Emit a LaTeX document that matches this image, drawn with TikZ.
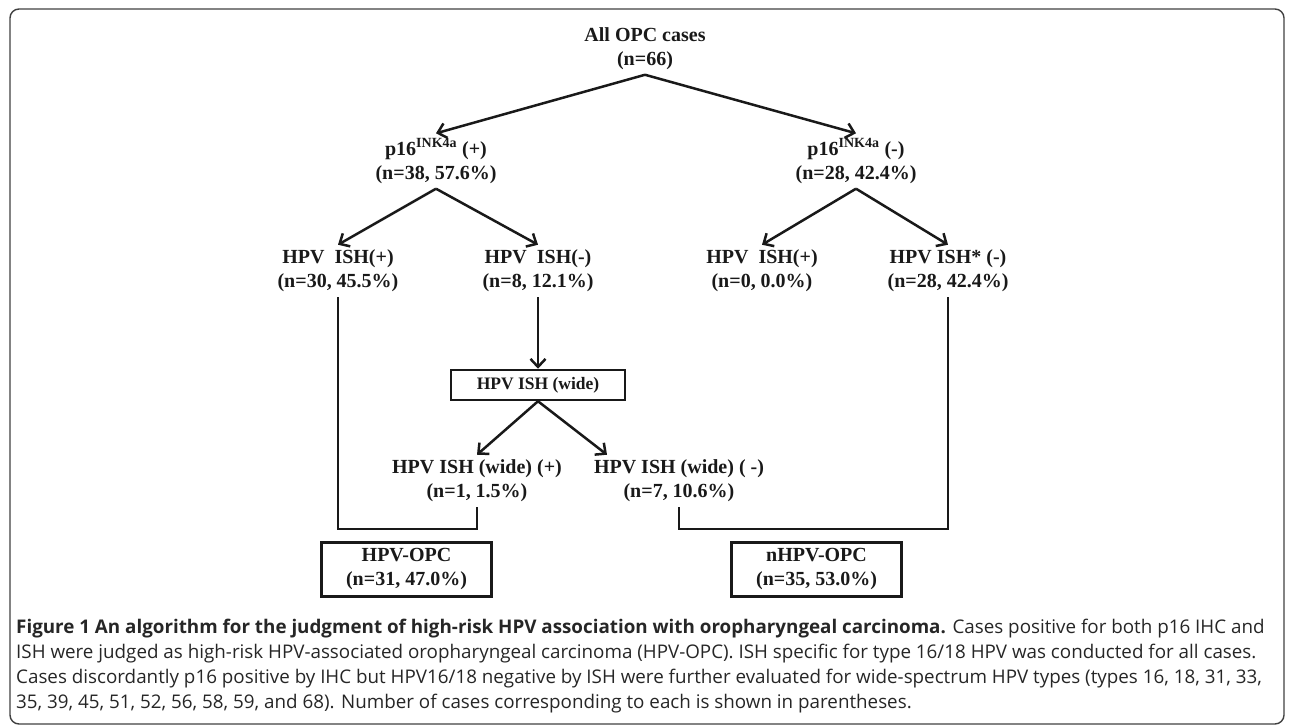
\documentclass[tikz,border=0pt]{standalone}
\usepackage{fontspec}
\setmainfont{Liberation Serif}
\newfontfamily\capfont{Open Sans}
\usetikzlibrary{positioning,arrows.meta}

\tikzset{
  lbl/.style={font=\bfseries\fontsize{20}{24}\selectfont, align=center, inner sep=5pt, text=black!90},
  result/.style={lbl, draw=black!90, line width=3.2pt, minimum width=170pt, minimum height=54pt, inner sep=2pt},
  testbox/.style={draw=black!90, line width=2.5pt, text=black!90, font=\bfseries\fontsize{17.5}{20}\selectfont, minimum width=174pt, minimum height=30pt, inner sep=0pt},
  arr/.style={line width=2.5pt, draw=black!90, -{Straight Barb[length=8pt,width=15pt]}},
  link/.style={line width=2.5pt, draw=black!90},
}

\begin{document}
\begin{tikzpicture}[x=1pt, y=-1pt, node distance=10pt, on grid]
  \useasboundingbox (0,0) rectangle (1290,725);
  \draw[rounded corners=9pt, line width=1.4pt, black!75] (10,9) rectangle (1284,724);

  \node[lbl] (all) at (645,48.5) {All OPC cases\\(n=66)};
  \node[lbl, below left=112.5pt and 209pt of all] (p16pos) {p16\textsuperscript{INK4a} (+)\\(n=38, 57.6\%)};
  \node[lbl, below right=112.5pt and 211pt of all] (p16neg) {p16\textsuperscript{INK4a} (-)\\(n=28, 42.4\%)};

  \node[lbl, below left=110pt and 98pt of p16pos] (ishposA) {HPV\ \ ISH(+)\\(n=30, 45.5\%)};
  \node[lbl, below right=110pt and 102pt of p16pos] (ishnegA) {HPV\ \ ISH(-)\\(n=8, 12.1\%)};
  \node[lbl, below left=110pt and 94pt of p16neg] (ishposB) {HPV\ \ ISH(+)\\(n=0, 0.0\%)};
  \node[lbl, below right=110pt and 92pt of p16neg] (ishnegB) {HPV ISH* (-)\\(n=28, 42.4\%)};

  \node[testbox, below=114pt of ishnegA] (wide) {HPV ISH (wide)};
  \node[lbl, below left=96pt and 61pt of wide] (widepos) {HPV ISH (wide) (+)\\(n=1, 1.5\%)};
  \node[lbl, below right=96pt and 141pt of wide] (wideneg) {HPV ISH (wide) ( -)\\(n=7, 10.6\%)};

  \node[result, below left=88.5pt and 70.5pt of widepos] (hpvopc) {HPV-OPC\\(n=31, 47.0\%)};
  \node[result, below right=88.5pt and 137.5pt of wideneg] (nhpvopc) {nHPV-OPC\\(n=35, 53.0\%)};

  \draw[arr] (all.south) -- (p16pos.north);
  \draw[arr] (all.south) -- (p16neg.north);
  \draw[arr] (p16pos.south) -- (ishposA.north);
  \draw[arr] (p16pos.south) -- (ishnegA.north);
  \draw[arr] (p16neg.south) -- (ishposB.north);
  \draw[arr] (p16neg.south) -- (ishnegB.north);
  \draw[arr] (ishnegA.south) -- (wide.north);
  \draw[arr] (wide.south) -- (widepos.north);
  \draw[arr] (wide.south) -- ([xshift=-72pt]wideneg.north);

  % joins down to the two result boxes
  \coordinate[above=12pt of hpvopc.north] (posjoin);
  \coordinate[above=12pt of nhpvopc.north] (negjoin);
  \draw[link] (ishposA.south) |- (posjoin) -| (widepos.south);
  \draw[link] (wideneg.south) |- (negjoin) -| (ishnegB.south);

  \node[font=\capfont\fontsize{18.8}{25}\selectfont, align=left, anchor=north west, inner sep=0pt, text=black!85] (caption) at (16,619)
    {\textbf{Figure 1 An algorithm for the judgment of high-risk HPV association with oropharyngeal carcinoma.} Cases positive for both p16 IHC and\\
     ISH were judged as high-risk HPV-associated oropharyngeal carcinoma (HPV-OPC). ISH specific for type 16/18 HPV was conducted for all cases.\\
     Cases discordantly p16 positive by IHC but HPV16/18 negative by ISH were further evaluated for wide-spectrum HPV types (types 16, 18, 31, 33,\\
     35, 39, 45, 51, 52, 56, 58, 59, and 68). Number of cases corresponding to each is shown in parentheses.};
\end{tikzpicture}
\end{document}
